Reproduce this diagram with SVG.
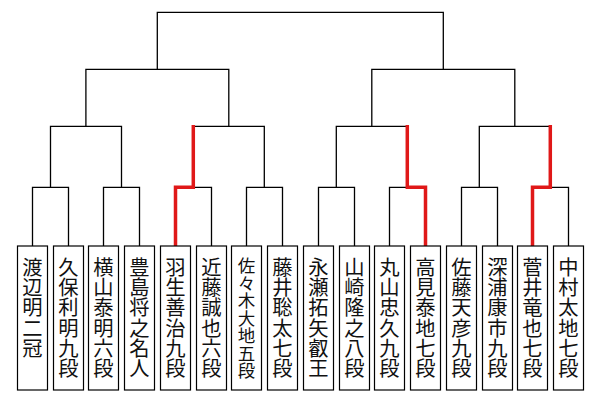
<svg xmlns="http://www.w3.org/2000/svg" width="600" height="400" viewBox="0 0 600 400">
<style>
.bg{fill:#fff}
.box{fill:#fff;stroke:#000;stroke-width:1.2}
.nm{font-family:"Noto Sans CJK JP","Noto Sans CJK SC",sans-serif;font-size:20.3px;fill:#111;writing-mode:vertical-rl;text-orientation:upright}
.sm{font-size:17.5px}
.ln{fill:none;stroke:#000;stroke-width:1.3}
.win{fill:none;stroke:#e01818;stroke-width:3.5;stroke-linejoin:miter}
</style>
<rect class="bg" x="0" y="0" width="600" height="400"/>
<g id="connectors">
<path class="ln" d="M157.3,69.3V12.3H443.3V69.3"/>
<path class="ln" d="M85.9,126.3V69.3H228.8V126.3"/>
<path class="ln" d="M371.8,126.3V69.3H514.8V126.3"/>
<path class="ln" d="M50.5,187.3V126.3H121.5V187.3"/>
<path class="ln" d="M193.3,126.3H264.3V187.3"/>
<path class="ln" d="M336.3,187.3V126.3H407.3"/>
<path class="ln" d="M479.3,187.3V126.3H550.3"/>
<path class="ln" d="M32.5,246V187.3H68.5V246"/>
<path class="ln" d="M103.5,246V187.3H139.5V246"/>
<path class="ln" d="M193.3,187.3H211.5V246"/>
<path class="ln" d="M246.5,246V187.3H282.5V246"/>
<path class="ln" d="M318.5,246V187.3H354.5V246"/>
<path class="ln" d="M389.5,246V187.3H407.3"/>
<path class="ln" d="M461.5,246V187.3H497.5V246"/>
<path class="ln" d="M550.3,187.3H568.5V246"/>
<path class="win" d="M175.5,246V187.3H193.3V125"/>
<path class="win" d="M425.5,246V187.3H407.3V125"/>
<path class="win" d="M532.5,246V187.3H550.3V125"/>
</g>
<g id="p1"><rect class="box" x="17.5" y="246" width="30" height="144"/><text class="nm" x="32.5" y="257">渡辺明二冠</text></g>
<g id="p2"><rect class="box" x="53.5" y="246" width="30" height="144"/><text class="nm" x="68.5" y="257">久保利明九段</text></g>
<g id="p3"><rect class="box" x="88.5" y="246" width="30" height="144"/><text class="nm" x="103.5" y="257">横山泰明六段</text></g>
<g id="p4"><rect class="box" x="124.5" y="246" width="30" height="144"/><text class="nm" x="139.5" y="257">豊島将之名人</text></g>
<g id="p5"><rect class="box" x="160.5" y="246" width="30" height="144"/><text class="nm" x="175.5" y="257">羽生善治九段</text></g>
<g id="p6"><rect class="box" x="196.5" y="246" width="30" height="144"/><text class="nm" x="211.5" y="257">近藤誠也六段</text></g>
<g id="p7"><rect class="box" x="231.5" y="246" width="30" height="144"/><text class="nm sm" x="246.5" y="257">佐々木大地五段</text></g>
<g id="p8"><rect class="box" x="267.5" y="246" width="30" height="144"/><text class="nm" x="282.5" y="257">藤井聡太七段</text></g>
<g id="p9"><rect class="box" x="303.5" y="246" width="30" height="144"/><text class="nm" x="318.5" y="257">永瀬拓矢叡王</text></g>
<g id="p10"><rect class="box" x="339.5" y="246" width="30" height="144"/><text class="nm" x="354.5" y="257">山崎隆之八段</text></g>
<g id="p11"><rect class="box" x="374.5" y="246" width="30" height="144"/><text class="nm" x="389.5" y="257">丸山忠久九段</text></g>
<g id="p12"><rect class="box" x="410.5" y="246" width="30" height="144"/><text class="nm" x="425.5" y="257">高見泰地七段</text></g>
<g id="p13"><rect class="box" x="446.5" y="246" width="30" height="144"/><text class="nm" x="461.5" y="257">佐藤天彦九段</text></g>
<g id="p14"><rect class="box" x="482.5" y="246" width="30" height="144"/><text class="nm" x="497.5" y="257">深浦康市九段</text></g>
<g id="p15"><rect class="box" x="517.5" y="246" width="30" height="144"/><text class="nm" x="532.5" y="257">菅井竜也七段</text></g>
<g id="p16"><rect class="box" x="553.5" y="246" width="30" height="144"/><text class="nm" x="568.5" y="257">中村太地七段</text></g>
</svg>
